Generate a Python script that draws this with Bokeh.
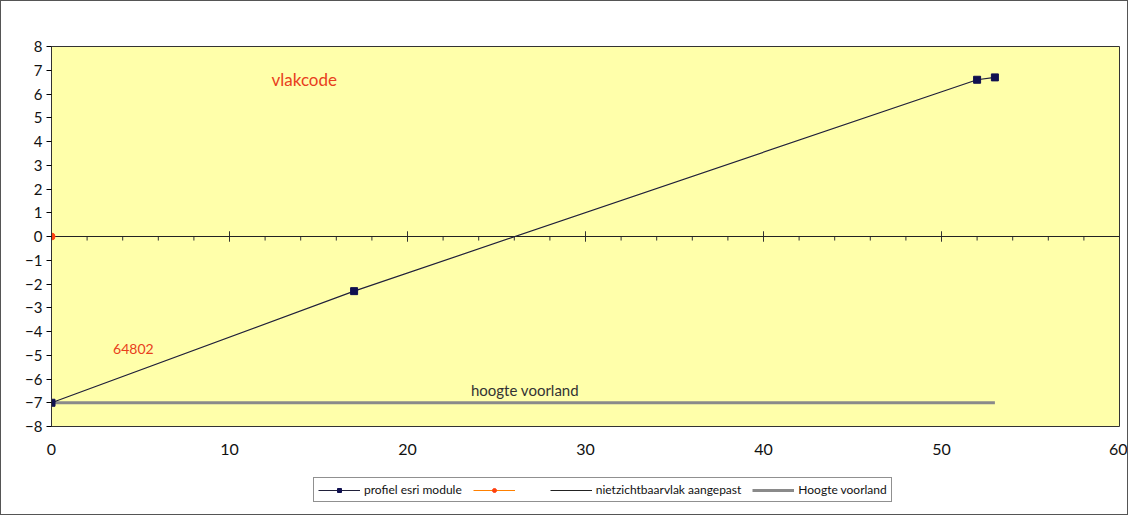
from bokeh.plotting import figure
from bokeh.layouts import column
from bokeh.models import Range1d, FixedTicker, Legend, LegendItem, Label
from bokeh.embed import file_html
from bokeh.resources import INLINE

# ---- data ----
profiel_x = [0, 17, 52, 53]
profiel_y = [-7, -2.3, 6.6, 6.7]
oranje_x = [0]
oranje_y = [0]
niet_x = [0, 60]
niet_y = [0, 0]
hoogte_x = [0, 53]
hoogte_y = [-7, -7]
x_ticks = [0, 10, 20, 30, 40, 50, 60]
x_minor = [v for v in range(0, 61, 2) if v % 10 != 0]
y_ticks = list(range(-8, 9))
series_names = ["profiel esri module", " ", "nietzichtbaarvlak aangepast", "Hoogte voorland"]

FONT = "Lato"
C_PROF = "#20203a"
C_PROF_M = "#101050"
C_OR_L = "#FF8000"
C_OR_M = "#FF4010"
C_NIET = "#222222"
C_HOOG = "#8a8a8a"


def add_series(fig):
    r4 = fig.line(hoogte_x, hoogte_y, line_color=C_HOOG, line_width=3)
    r3 = fig.line(niet_x, niet_y, line_color=C_NIET, line_width=1)
    l1 = fig.line(profiel_x, profiel_y, line_color=C_PROF, line_width=1.2)
    m1 = fig.scatter(profiel_x, profiel_y, marker="square", size=7, fill_color=C_PROF_M, line_color=C_PROF_M)
    l2 = fig.line(oranje_x, oranje_y, line_color=C_OR_L, line_width=1)
    m2 = fig.scatter(oranje_x, oranje_y, marker="circle", size=7, fill_color=C_OR_M, line_color=C_OR_M)
    return [[l1, m1], [l2, m2], [r3], [r4]]


p = figure(frame_width=1068, frame_height=380, output_backend="svg", toolbar_location=None,
           x_range=Range1d(0, 60), y_range=Range1d(-8, 8),
           min_border_left=50, min_border_right=8, min_border_top=45, min_border_bottom=40)
p.background_fill_color = "#FFFFAA"
p.border_fill_color = "white"
p.outline_line_color = "#333333"
p.outline_line_width = 1
p.grid.visible = False

# y axis
p.yaxis.ticker = FixedTicker(ticks=y_ticks)
p.yaxis.major_tick_out = 5
p.yaxis.major_tick_in = 0
p.yaxis.minor_tick_line_color = None
p.yaxis.axis_line_color = "#333333"
p.yaxis.major_label_text_font = FONT
p.yaxis.major_label_text_font_size = "15px"
p.yaxis.major_label_text_color = "#111111"
p.yaxis.major_label_standoff = 4

# x axis: labels only at bottom
p.xaxis.ticker = FixedTicker(ticks=x_ticks)
p.xaxis.major_tick_out = 0
p.xaxis.major_tick_in = 0
p.xaxis.minor_tick_line_color = None
p.xaxis.axis_line_color = None
p.xaxis.major_label_text_font = FONT
p.xaxis.major_label_text_font_size = "16px"
p.xaxis.major_label_text_color = "#111111"
p.xaxis.major_label_standoff = 17

# crossing axis ticks at y = 0
p.segment(x0=x_ticks, y0=[-0.22] * len(x_ticks), x1=x_ticks, y1=[0.22] * len(x_ticks),
          line_color="#333333", line_width=1)
p.segment(x0=x_minor, y0=[-0.17] * len(x_minor), x1=x_minor, y1=[0] * len(x_minor),
          line_color="#333333", line_width=1)

add_series(p)

# labels
p.add_layout(Label(x=14.2, y=6.6, text="vlakcode", text_align="center", text_baseline="middle",
                   text_font=FONT, text_font_size="17px", text_color="#E8401C"))
p.add_layout(Label(x=4.6, y=-4.75, text="64802", text_align="center", text_baseline="middle",
                   text_font=FONT, text_font_size="14px", text_color="#E8401C"))
p.add_layout(Label(x=26.6, y=-6.45, text="hoogte voorland", text_align="center", text_baseline="middle",
                   text_font=FONT, text_font_size="15px", text_color="#333333"))

# legend strip: same series, drawn outside its visible range so only the legend shows
lg = figure(width=1126, height=48, output_backend="svg", toolbar_location=None,
            x_range=Range1d(1000, 1001), y_range=Range1d(1000, 1001), min_border=0)
lg.axis.visible = False
lg.grid.visible = False
lg.outline_line_color = None
lg.background_fill_color = "white"
lg.border_fill_color = "white"
rs = add_series(lg)

legend = Legend(items=[LegendItem(label=n, renderers=r) for n, r in zip(series_names, rs)],
                orientation="horizontal", location=(262, 12))
legend.label_text_font = FONT
legend.label_text_font_size = "12px"
legend.label_text_color = "#111111"
legend.border_line_color = "#222222"
legend.border_line_width = 1
legend.background_fill_color = "white"
legend.glyph_width = 42
legend.glyph_height = 10
legend.spacing = 11
legend.padding = 4
legend.label_standoff = 4
legend.margin = 0
lg.add_layout(legend, "center")

layout = column(p, lg, spacing=0)
layout.styles = {"border": "1px solid #555"}

open("out.html", "w").write(file_html(layout, INLINE))
